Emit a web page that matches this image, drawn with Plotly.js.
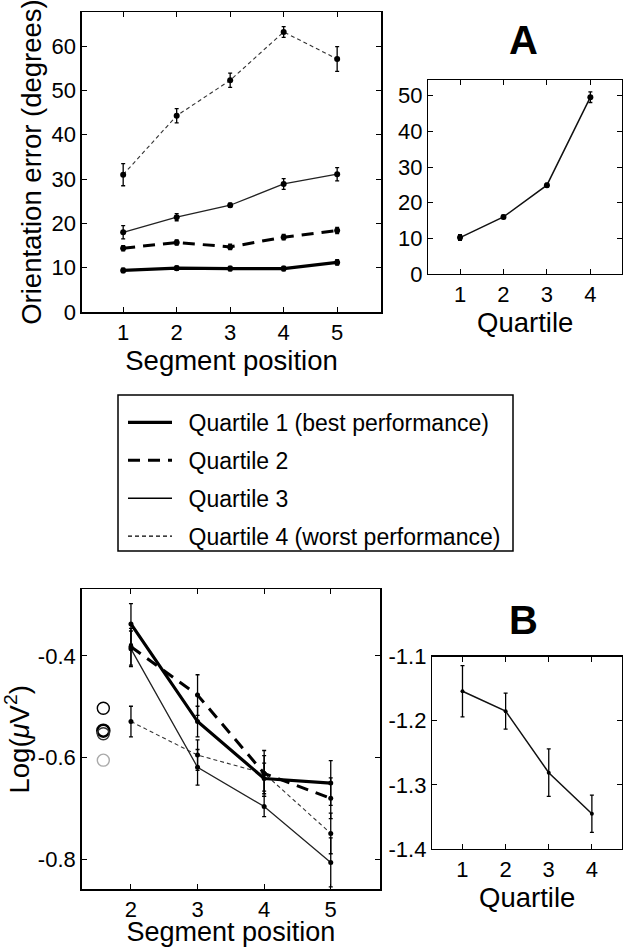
<!DOCTYPE html>
<html>
<head>
<meta charset="utf-8">
<script src="https://cdn.plot.ly/plotly-3.0.1.min.js"></script>
<style>html,body{margin:0;padding:0;background:#fff;}#chart{width:623px;height:947px;}</style>
</head>
<body>
<div id="chart"></div>
<script>
// ---------- DATA ----------
const quartileNames = ["Quartile 1 (best performance)", "Quartile 2", "Quartile 3", "Quartile 4 (worst performance)"];

// Panel A: orientation error (degrees) by segment position
const segA = [1, 2, 3, 4, 5];
const errA_q1 = [9.4, 9.9, 9.8, 9.8, 11.2];
const errA_q2 = [14.4, 15.7, 14.7, 16.9, 18.4];
const errA_q3 = [18.0, 21.4, 24.1, 28.9, 31.1];
const errA_q4 = [31.0, 44.3, 52.3, 63.2, 57.1];
const semA_q1 = [0.5, 0.5, 0.5, 0.5, 0.6];
const semA_q2 = [0.6, 0.6, 0.6, 0.6, 0.7];
const semA_q3 = [1.5, 0.8, 0.5, 1.2, 1.5];
const semA_q4 = [2.5, 1.6, 1.6, 1.2, 2.8];

// Panel A inset: mean error by quartile
const quartiles = [1, 2, 3, 4];
const errA_byQuartile = [10.2, 16.0, 24.9, 49.6];
const semA_byQuartile = [0.8, 0.5, 0.5, 1.5];

// Panel B: Log(uV^2) by segment position
const segB = [2, 3, 4, 5];
const powB_q1 = [-0.337, -0.529, -0.641, -0.650];
const powB_q2 = [-0.382, -0.477, -0.631, -0.680];
const powB_q3 = [-0.386, -0.619, -0.696, -0.806];
const powB_q4 = [-0.529, -0.595, -0.631, -0.749];
const semB_q1 = [0.040, 0.030, 0.030, 0.044];
const semB_q2 = [0.036, 0.040, 0.045, 0.040];
const semB_q3 = [0.035, 0.035, 0.020, 0.048];
const semB_q4 = [0.030, 0.030, 0.035, 0.040];

// Panel B baseline circles (one per quartile: Q1, Q2, Q3, Q4)
const baseX = [1.585, 1.585, 1.585, 1.585];
const baseY = [-0.547, -0.553, -0.503, -0.605];

// Panel B inset: by quartile
const powB_byQuartile = [-1.154, -1.185, -1.281, -1.345];
const semB_byQuartile = [0.040, 0.028, 0.037, 0.029];

// Tick labels
const tickA_y = [0, 10, 20, 30, 40, 50, 60];
const tickAi_y = [0, 10, 20, 30, 40, 50];
const tickB_yv = [-0.8, -0.6, -0.4];
const tickB_yt = ["-0.8", "-0.6", "-0.4"];
const tickBi_yv = [-1.4, -1.3, -1.2, -1.1];
const tickBi_yt = ["-1.4", "-1.3", "-1.2", "-1.1"];

// ---------- STYLE ----------
const FONT = "Liberation Sans, Arial, Helvetica, sans-serif";
const styles = [
  {width: 3.2, dash: "solid", color: "#000"},
  {width: 3.0, dash: "12px,8px", color: "#000"},
  {width: 1.3, dash: "solid", color: "#222"},
  {width: 1.1, dash: "4px,3px", color: "#333"}
];

function tr(x, y, e, q, xa, ya, msize) {
  return {
    type: "scatter", mode: "lines+markers", x: x, y: y,
    xaxis: xa, yaxis: ya,
    name: quartileNames[q], legendgroup: "q" + q, showlegend: false,
    line: {color: styles[q].color, width: styles[q].width, dash: styles[q].dash},
    marker: {color: "#000", size: msize},
    error_y: {type: "data", array: e, visible: true, color: "#000", thickness: 1.3, width: 2}
  };
}

const aY = [errA_q1, errA_q2, errA_q3, errA_q4];
const aE = [semA_q1, semA_q2, semA_q3, semA_q4];
const bY = [powB_q1, powB_q2, powB_q3, powB_q4];
const bE = [semB_q1, semB_q2, semB_q3, semB_q4];

const data = [];
for (let q = 3; q >= 0; q--) data.push(tr(segA, aY[q], aE[q], q, "x", "y", 6));
for (let q = 3; q >= 0; q--) data.push(tr(segB, bY[q], bE[q], q, "x3", "y3", 5));
// legend entries (own traces so legend follows quartile order)
for (let q = 0; q < 4; q++) {
  data.push({type: "scatter", mode: "lines", x: [null], y: [null], xaxis: "x", yaxis: "y",
    name: "\u2002" + quartileNames[q], legendgroup: "q" + q, showlegend: true,
    line: {color: "#000", width: styles[q].width, dash: styles[q].dash}});
}
data.push({type: "scatter", mode: "lines+markers", x: quartiles, y: errA_byQuartile, xaxis: "x2", yaxis: "y2",
  showlegend: false, line: {color: "#111", width: 1.5}, marker: {color: "#000", size: 6},
  error_y: {type: "data", array: semA_byQuartile, visible: true, color: "#000", thickness: 1.3, width: 2}});
data.push({type: "scatter", mode: "lines+markers", x: quartiles, y: powB_byQuartile, xaxis: "x4", yaxis: "y4",
  showlegend: false, line: {color: "#111", width: 1.5}, marker: {color: "#000", size: 4},
  error_y: {type: "data", array: semB_byQuartile, visible: true, color: "#000", thickness: 1.3, width: 2}});
data.push({type: "scatter", mode: "markers", x: baseX, y: baseY, xaxis: "x3", yaxis: "y3", showlegend: false,
  marker: {symbol: "circle-open", size: 12, color: ["#000", "#333", "#000", "#aaa"],
    line: {width: [2.6, 1.4, 1.4, 1.4], color: ["#000", "#333", "#000", "#aaa"]}}});

const axBase = {
  showline: true, linecolor: "#000", linewidth: 1.5, mirror: "ticks",
  ticks: "inside", ticklen: 5, tickwidth: 1, tickcolor: "#000",
  showgrid: false, zeroline: false, fixedrange: true,
  tickfont: {family: FONT, size: 22, color: "#000"}
};
function ax(o) { return Object.assign({}, axBase, o); }
const titleFont = {family: FONT, size: 27.5, color: "#000"};

const layout = {
  width: 623, height: 947,
  margin: {l: 0, r: 0, t: 0, b: 0},
  paper_bgcolor: "#fff", plot_bgcolor: "#fff",
  font: {family: FONT, color: "#000"},
  showlegend: true,
  legend: {x: 123 / 623, xanchor: "left", y: 1 - 401 / 947, yanchor: "top",
    bgcolor: "rgba(0,0,0,0)", borderwidth: 0,
    font: {family: FONT, size: 23, color: "#000"}, itemwidth: 44,
    tracegroupgap: 5, traceorder: "grouped", itemclick: false, itemdoubleclick: false},
  shapes: [
    {type: "rect", xref: "paper", yref: "paper", x0: 118 / 623, x1: 513 / 623, y0: 1 - 551 / 947, y1: 1 - 395 / 947,
      line: {color: "#000", width: 1.5}, fillcolor: "rgba(0,0,0,0)", layer: "below"}
  ],
  xaxis: ax({domain: [0.1316, 0.6116], range: [0.23, 5.82], tickvals: segA, anchor: "y",
    title: {text: "Segment position", font: titleFont, standoff: 4}}),
  yaxis: ax({domain: [0.6705, 0.9873], range: [0, 67.7], tickvals: tickA_y, anchor: "x",
    title: {text: "Orientation error (degrees)", font: titleFont, standoff: 2}}),
  xaxis2: ax({domain: [0.6875, 0.9985], range: [0.27, 4.73], tickvals: quartiles, anchor: "y2",
    title: {text: "Quartile", font: titleFont, standoff: 4}}),
  yaxis2: ax({domain: [0.7107, 0.9155], range: [0, 54.4], tickvals: tickAi_y, anchor: "x2"}),
  xaxis3: ax({domain: [0.1311, 0.6100], range: [1.26, 5.74], tickvals: segB, anchor: "y3",
    title: {text: "Segment position", font: {family: FONT, size: 27, color: "#000"}, standoff: 6}}),
  yaxis3: ax({domain: [0.0609, 0.3777], range: [-0.859, -0.269], tickvals: tickB_yv, ticktext: tickB_yt, anchor: "x3",
    title: {text: "Log(<i>μ</i>V<sup>2</sup>)", font: titleFont, standoff: 2}}),
  xaxis4: ax({domain: [0.6939, 0.9985], range: [0.3, 4.7], tickvals: quartiles, anchor: "y4",
    title: {text: "Quartile", font: titleFont, standoff: 4}}),
  yaxis4: ax({domain: [0.1035, 0.3066], range: [-1.4, -1.1], tickvals: tickBi_yv, ticktext: tickBi_yt, anchor: "x4"}),
  annotations: [
    {text: "<b>A</b>", x: 523 / 623, y: 1 - 40 / 947, xref: "paper", yref: "paper", showarrow: false,
      xanchor: "center", yanchor: "middle", font: {family: FONT, size: 40, color: "#000"}},
    {text: "<b>B</b>", x: 523 / 623, y: 1 - 620 / 947, xref: "paper", yref: "paper", showarrow: false,
      xanchor: "center", yanchor: "middle", font: {family: FONT, size: 40, color: "#000"}}
  ]
};

Plotly.newPlot("chart", data, layout, {staticPlot: true, displayModeBar: false});
</script>
</body>
</html>
